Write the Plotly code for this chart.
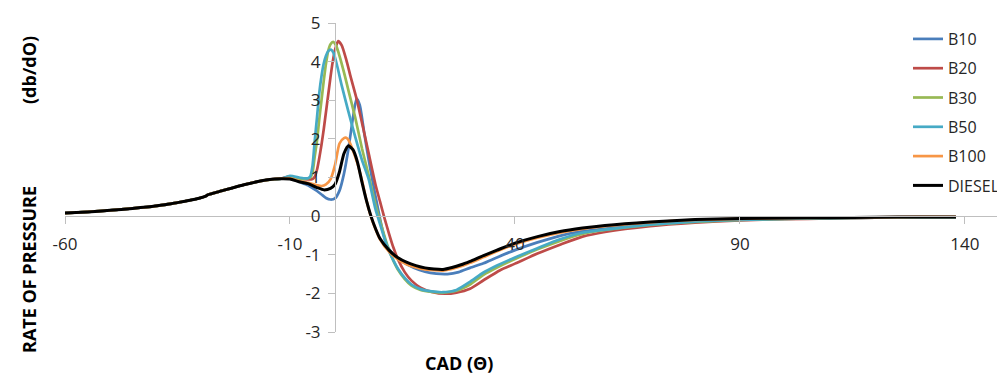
import plotly.graph_objects as go

# ---- data ----
x_lead = [-60, -55, -50, -45, -40, -35, -30, -28.6, -28.3, -25, -20, -15, -12]
y_lead = [0.08, 0.11, 0.15, 0.20, 0.26, 0.35, 0.47, 0.525, 0.55, 0.66, 0.82, 0.94, 0.97]

x_b10 = [-10, -8, -6, -4, -3, -2, -1, 0, 1, 2, 3, 4, 4.8, 5.5, 6.5, 7.5, 8.5, 9.5, 10.5, 11.5,
         13, 15, 17.5, 20, 22.5, 25, 27.5, 30, 33, 36, 40, 45, 50, 55, 60, 70, 80, 90, 100, 110,
         120, 130, 138]
y_b10 = [0.98, 0.89, 0.80, 0.65, 0.56, 0.47, 0.43, 0.46, 0.66, 1.10, 1.75, 2.55, 3.04, 2.88, 2.15,
         1.45, 0.82, 0.22, -0.33, -0.75, -1.0, -1.18, -1.34, -1.44, -1.49, -1.50, -1.45, -1.34,
         -1.22, -1.07, -0.88, -0.68, -0.51, -0.39, -0.32, -0.21, -0.13, -0.09, -0.06, -0.05,
         -0.04, -0.03, -0.03]

x_b20 = [-10, -8, -6, -5, -4.5, -4, -3.5, -3, -2.5, -2, -1.5, -1, -0.5, 0, 0.7, 1.5, 2.5, 3.5,
         4.8, 6.3, 7.5, 9, 10, 11, 12, 13, 14, 15.5, 17, 19, 21.5, 24.5, 27, 30, 33, 36.7, 40, 45,
         50, 55, 60, 70, 80, 90, 100, 110, 120, 130, 138]
y_b20 = [1.03, 0.97, 0.95, 0.96, 1.02, 1.2, 1.5, 1.85, 2.25, 2.7, 3.15, 3.6, 4.0, 4.3, 4.53, 4.42,
         4.05, 3.6, 3.04, 2.26, 1.62, 0.82, 0.38, -0.05, -0.45, -0.82, -1.12, -1.45, -1.67, -1.85,
         -1.96, -2.01, -1.98, -1.88, -1.66, -1.40, -1.23, -0.97, -0.74, -0.53, -0.41, -0.26,
         -0.17, -0.11, -0.08, -0.06, -0.04, -0.03, -0.03]

x_b30 = [-10, -8, -7, -6, -5.5, -5, -4.5, -4, -3.5, -3, -2.5, -2, -1.5, -1, -0.4, 0.3, 1, 2, 3,
         4.5, 6, 7.5, 9, 10, 11, 12, 13, 14, 15.5, 17, 19, 21.5, 24, 27, 30, 33, 36, 40, 45, 50,
         55, 60, 70, 80, 90, 100, 110, 120, 130, 138]
y_b30 = [1.0, 0.97, 0.96, 0.98, 1.0, 1.12, 1.55, 1.95, 2.5, 3.0, 3.5, 3.95, 4.28, 4.45, 4.51, 4.40,
         4.15, 3.72, 3.25, 2.55, 1.75, 1.05, 0.30, -0.12, -0.52, -0.88, -1.16, -1.39, -1.63,
         -1.80, -1.91, -1.96, -1.98, -1.93, -1.77, -1.52, -1.33, -1.11, -0.86, -0.64, -0.46,
         -0.36, -0.23, -0.15, -0.10, -0.07, -0.05, -0.04, -0.03, -0.03]

x_b50 = [-10, -8, -7, -6, -5.5, -5, -4.5, -4, -3.5, -3, -2.5, -2, -1.5, -0.9, -0.3, 0.5, 1.5, 3,
         4.5, 6, 7.5, 9, 10, 11, 12, 13, 14, 15.5, 17, 19, 21.5, 24, 27, 30, 33, 36, 40, 45, 50,
         55, 60, 70, 80, 90, 100, 110, 120, 130, 138]
y_b50 = [1.04, 1.00, 0.98, 0.98, 1.03, 1.30, 1.95, 2.55, 3.18, 3.62, 3.95, 4.15, 4.27, 4.31, 4.22,
         3.88, 3.38, 2.70, 2.05, 1.45, 0.95, 0.18, -0.20, -0.58, -0.90, -1.15, -1.36, -1.60,
         -1.77, -1.89, -1.95, -1.97, -1.91, -1.70, -1.46, -1.28, -1.07, -0.83, -0.60, -0.43,
         -0.35, -0.22, -0.14, -0.10, -0.07, -0.05, -0.04, -0.03, -0.03]

x_b100 = [-10, -8, -6, -4, -3, -2, -1, 0, 1, 2, 2.5, 3, 4, 5, 6, 7, 8, 9, 10, 12, 14, 16, 18, 20,
          22, 24, 26, 28, 30, 33, 36, 40, 45, 50, 55, 60, 70, 80, 90, 100, 110, 120, 130, 138]
y_b100 = [0.98, 0.91, 0.86, 0.80, 0.78, 0.82, 0.95, 1.32, 1.88, 2.02, 2.03, 1.97, 1.70, 1.36, 0.92,
          0.40, -0.02, -0.33, -0.60, -0.92, -1.12, -1.25, -1.33, -1.38, -1.40, -1.41, -1.37,
          -1.30, -1.21, -1.06, -0.91, -0.73, -0.56, -0.43, -0.33, -0.26, -0.16, -0.10, -0.07,
          -0.05, -0.04, -0.03, -0.02, -0.02]

x_diesel = [-10, -8, -6, -4, -2.5, -1, 0, 1, 2, 3, 4, 5, 6, 7, 8, 9, 10, 12, 14, 16, 18, 20, 22,
            24, 26, 28, 30, 33, 36, 40, 45, 50, 55, 60, 70, 80, 90, 100, 110, 120, 130, 138]
y_diesel = [0.96, 0.89, 0.84, 0.74, 0.68, 0.72, 0.82, 1.15, 1.62, 1.82, 1.72, 1.40, 0.88, 0.40,
            0.0, -0.32, -0.58, -0.88, -1.08, -1.20, -1.28, -1.34, -1.37, -1.38, -1.33, -1.26,
            -1.17, -1.02, -0.88, -0.70, -0.53, -0.40, -0.31, -0.24, -0.15, -0.09, -0.06, -0.05,
            -0.04, -0.03, -0.02, -0.02]

series_names = ["B10", "B20", "B30", "B50", "B100", "DIESEL"]
x_tick_vals = [-60, -10, 40, 90, 140]
x_tick_text = ["-60", "-10", "40", "90", "140"]
y_tick_vals = [-3, -2, -1, 0, 1, 2, 3, 4, 5]
y_tick_text = ["-3", "-2", "-1", "0", "1", "2", "3", "4", "5"]

# ---- styles ----
colors = ["#4A7EBB", "#BE4B48", "#98B954", "#46AAC5", "#F79646", "#000000"]
widths = [2.7, 2.7, 2.7, 2.7, 2.7, 3]
FONT = "Open Sans"

X_MIN, X_MAX = -60, 148.9
Y_MIN, Y_MAX = -3, 5
OFF = 8                       # default page body margin
L, T, PW, PH = 65, 23, 940, 309  # plot area in screen pixels
W, H = 1005 - OFF, 383 - OFF

fig = go.Figure()
tails = [(x_b10, y_b10), (x_b20, y_b20), (x_b30, y_b30), (x_b50, y_b50),
         (x_b100, y_b100), (x_diesel, y_diesel)]
for name, (xs, ys), c, w in zip(series_names, tails, colors, widths):
    fig.add_trace(go.Scatter(
        x=x_lead + xs, y=y_lead + ys, name=name, mode="lines",
        line=dict(color=c, width=w, shape="spline", smoothing=0.6),
        legendgroup=name,
    ))

fig.update_layout(
    width=W, height=H,
    margin=dict(l=L - OFF, r=W - (L - OFF) - PW, t=T - OFF, b=H - (T - OFF) - PH,
                autoexpand=False),
    paper_bgcolor="white", plot_bgcolor="white",
    font=dict(family=FONT, color="#262626"),
    showlegend=True,
    legend=dict(
        x=(908 - L) / PW, y=(T + PH - 22) / PH, xanchor="left", yanchor="top",
        font=dict(family=FONT, size=16, color="#262626"),
        bgcolor="rgba(0,0,0,0)", tracegroupgap=5.5, traceorder="grouped",
        itemwidth=30,
    ),
    xaxis=dict(
        range=[X_MIN, X_MAX], anchor="free", automargin=False,
        position=(0 - Y_MIN) / (Y_MAX - Y_MIN),
        tickvals=x_tick_vals, ticktext=x_tick_text,
        ticks="outside", ticklen=7, tickcolor="#BFBFBF",
        showline=True, linecolor="#BFBFBF", linewidth=1,
        showgrid=False, zeroline=False,
        tickfont=dict(family=FONT, size=17, color="#262626"),
        ticklabelstandoff=5,
    ),
    yaxis=dict(
        range=[Y_MIN, Y_MAX], anchor="free", automargin=False,
        position=(0 - X_MIN) / (X_MAX - X_MIN),
        tickvals=y_tick_vals, ticktext=y_tick_text,
        ticks="outside", ticklen=7, tickcolor="#BFBFBF",
        showline=True, linecolor="#BFBFBF", linewidth=1,
        showgrid=False, zeroline=False,
        tickfont=dict(family=FONT, size=17, color="#262626"),
        ticklabelstandoff=4,
    ),
)

# axis titles
fig.add_annotation(text="<b>RATE OF PRESSURE</b>", textangle=-90,
                   xref="paper", yref="paper", x=(29 - L) / PW, y=(T + PH - 270) / PH,
                   showarrow=False, font=dict(family=FONT, size=18, color="#000000"),
                   xanchor="center", yanchor="middle")
fig.add_annotation(text="<b>(db/dO)</b>", textangle=-90,
                   xref="paper", yref="paper", x=(29 - L) / PW, y=(T + PH - 70) / PH,
                   showarrow=False, font=dict(family=FONT, size=18, color="#000000"),
                   xanchor="center", yanchor="middle")
fig.add_annotation(text="<b>CAD (Θ)</b>",
                   xref="paper", yref="paper", x=(459 - L) / PW, y=(T + PH - 363) / PH,
                   showarrow=False, font=dict(family=FONT, size=18, color="#000000"),
                   xanchor="center", yanchor="middle")

fig.write_html("out.html")
